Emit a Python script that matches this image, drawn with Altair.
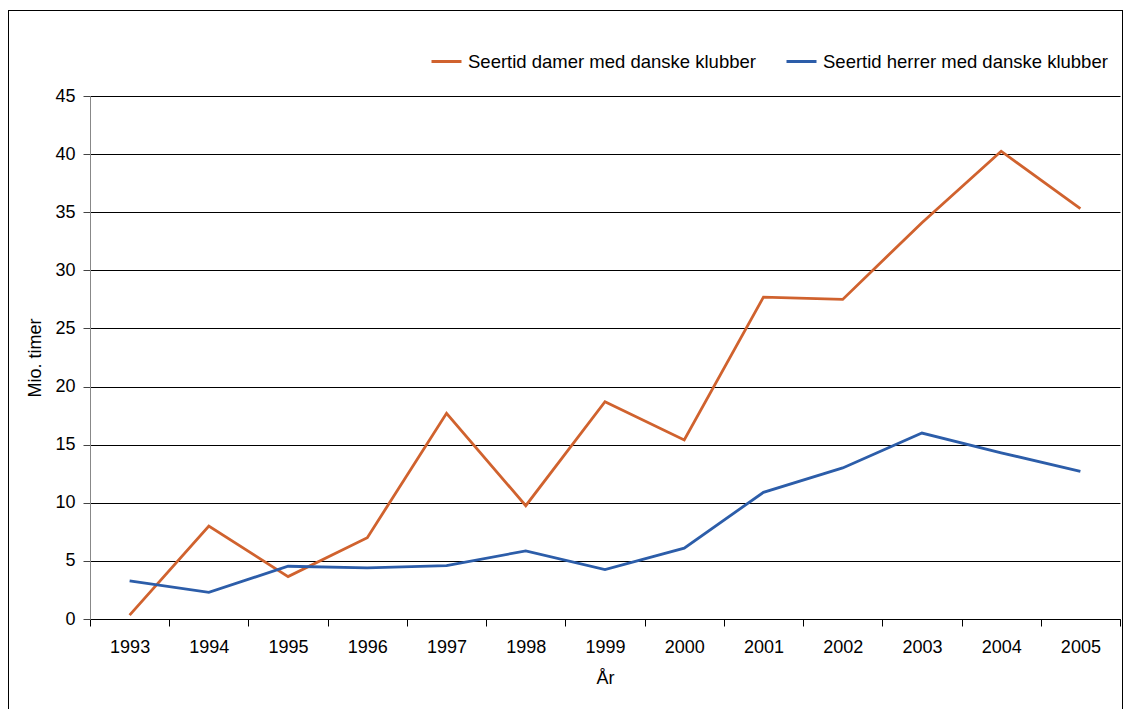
import altair as alt
import pandas as pd

years = ["1993", "1994", "1995", "1996", "1997", "1998", "1999",
         "2000", "2001", "2002", "2003", "2004", "2005"]
damer = [0.33, 8.0, 3.65, 7.0, 17.7, 9.75, 18.7, 15.4, 27.7, 27.5, 34.1, 40.25, 35.3]
herrer = [3.28, 2.3, 4.54, 4.4, 4.6, 5.86, 4.25, 6.1, 10.9, 13.0, 16.0, 14.3, 12.7]
series = ["Seertid damer med danske klubber", "Seertid herrer med danske klubber"]
colors = ["#D0622E", "#2C5DA9"]
y_ticks = [0, 5, 10, 15, 20, 25, 30, 35, 40, 45]

rows = []
for name, vals in zip(series, [damer, herrer]):
    for yr, v in zip(years, vals):
        rows.append({"year": yr, "value": v, "series": name})
df = pd.DataFrame(rows)

FONT = "Liberation Sans"
FS = 18

lines = alt.Chart(df).mark_line(strokeWidth=2.8).encode(
    x=alt.X(
        "year:O",
        bandPosition=0.5,
        scale=alt.Scale(type="band", paddingInner=0, paddingOuter=0, domain=years),
        axis=alt.Axis(
            title="År", labelAngle=0, tickBand="extent", domainColor="black",
            tickColor="black", tickSize=7, labelFontSize=FS, labelPadding=12,
            titleFontSize=FS, titleFontWeight="normal", titlePadding=13,
            labelColor="black", titleColor="black", labelFont=FONT, titleFont=FONT,
        ),
    ),
    y=alt.Y(
        "value:Q",
        scale=alt.Scale(domain=[0, 45], nice=False),
        axis=alt.Axis(
            title="Mio. timer", values=y_ticks, grid=True, gridColor="black",
            gridWidth=1, domainColor="#888888", tickColor="#444444", tickSize=7,
            labelFontSize=FS, labelPadding=8, titleFontSize=FS,
            titleFontWeight="normal", titlePadding=10, labelColor="black",
            titleColor="black", labelFont=FONT, titleFont=FONT,
        ),
    ),
    color=alt.Color(
        "series:N",
        scale=alt.Scale(domain=series, range=colors),
        sort=series,
        legend=alt.Legend(
            orient="none", legendX=340, legendY=-51, direction="horizontal",
            title=None, symbolType="stroke", symbolStrokeWidth=3, symbolSize=900,
            labelFontSize=18.5, labelFont=FONT, labelColor="black", labelLimit=0,
            columnPadding=24, labelOffset=5, padding=0,
        ),
    ),
)

frame_df = pd.DataFrame({"a": [0]})
left = alt.Chart(frame_df).mark_rule(color="black", strokeWidth=1).encode(
    x=alt.value(-81.5), y=alt.value(-86), y2=alt.value(640))
right = alt.Chart(frame_df).mark_rule(color="black", strokeWidth=1).encode(
    x=alt.value(1032.5), y=alt.value(-86), y2=alt.value(640))
top = alt.Chart(frame_df).mark_rule(color="black", strokeWidth=1).encode(
    x=alt.value(-81.5), x2=alt.value(1032.5), y=alt.value(-85.5))

chart = alt.layer(lines, left, right, top).properties(
    width=1030, height=523,
    autosize=alt.AutoSizeParams(type="none"),
    padding={"left": 82, "top": 88, "right": 3, "bottom": 100},
).configure_view(strokeWidth=0)

chart.save("out.html", embed_options={"renderer": "svg", "actions": False})
